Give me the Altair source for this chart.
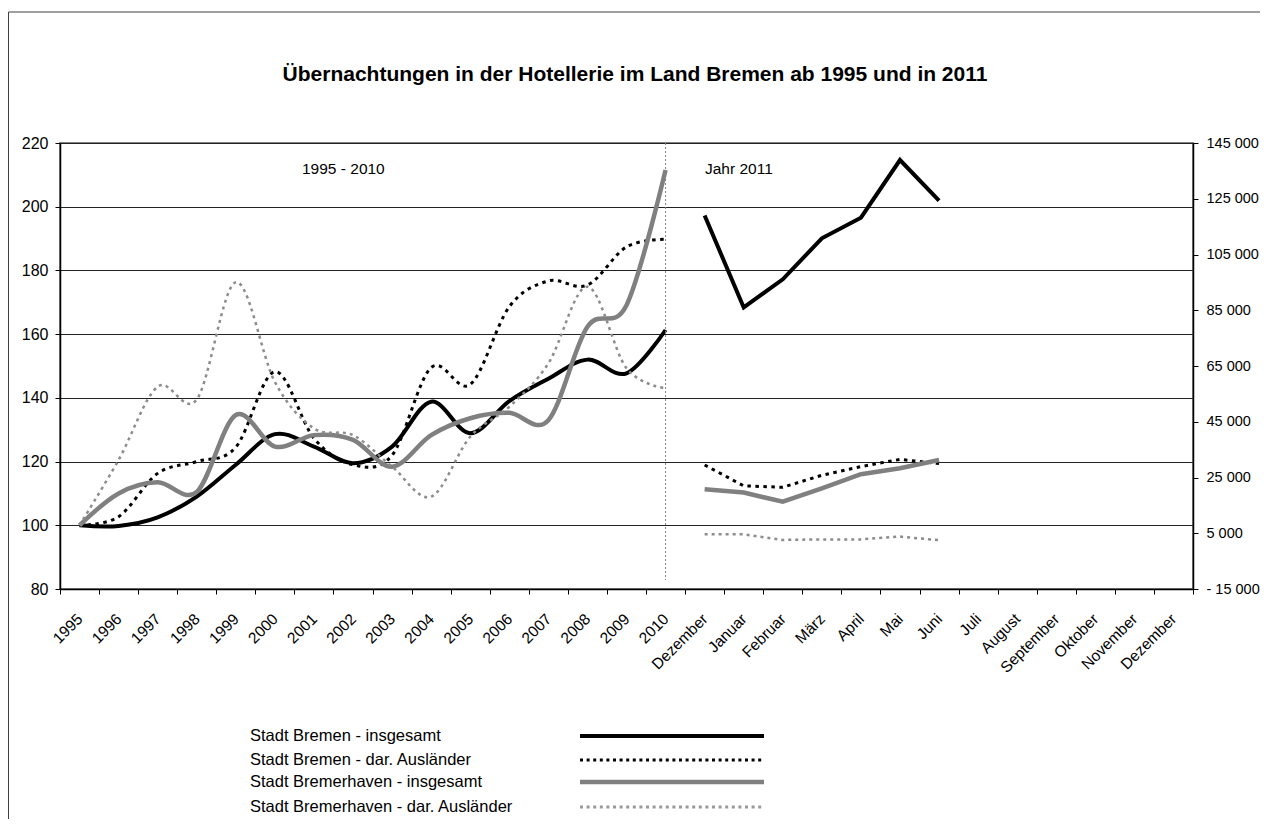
import altair as alt
import pandas as pd

# ---------------- data ----------------
title_text = "Übernachtungen in der Hotellerie im Land Bremen ab 1995 und in 2011"
years = [str(y) for y in range(1995, 2011)]
months = ["Dezember", "Januar", "Februar", "März", "April", "Mai", "Juni",
          "Juli", "August", "September", "Oktober", "November", "Dezember"]
x_labels = years + months

series_keys = ["hb_total", "hb_foreign", "bhv_total", "bhv_foreign"]
series_names = ["Stadt Bremen - insgesamt", "Stadt Bremen - dar. Ausländer",
                "Stadt Bremerhaven - insgesamt", "Stadt Bremerhaven - dar. Ausländer"]

# Index 1995 = 100 (left axis), 1995-2010
hb_total = [100, 99.8, 102.5, 109, 119, 128.6, 124.7, 119.5, 124.7, 138.8, 128.9, 139, 146, 152, 147.7, 161.3]
hb_foreign = [100, 102.7, 116.3, 120, 124.5, 148.2, 127.3, 119, 122, 149.5, 144.2, 168.6, 176.7, 175.4, 187.4, 189.8]
bhv_total = [100, 110, 113.5, 110.5, 134.6, 124.7, 128.3, 126.8, 118.4, 128.3, 133.6, 135.3, 133, 162.3, 169.1, 211.5]
bhv_foreign = [100, 120.5, 143.5, 139.5, 176.3, 145, 130.4, 128.3, 118.4, 109, 127.8, 137.2, 150.8, 174.9, 149.3, 143]

# Absolute numbers 2011 (right axis), Dezember (2010) .. Juni
m_hb_total = [119000, 86000, 96100, 110800, 118200, 138900, 124300]
m_hb_foreign = [29500, 22000, 21500, 25800, 28900, 31500, 30000]
m_bhv_total = [20800, 19600, 16300, 21100, 26200, 28300, 31300]
m_bhv_foreign = [4600, 4600, 2600, 2800, 2800, 3800, 2500]

left_ticks = [80, 100, 120, 140, 160, 180, 200, 220]
right_ticks = [-15000, 5000, 25000, 45000, 65000, 85000, 105000, 125000, 145000]

hist_values = {"hb_total": hb_total, "hb_foreign": hb_foreign,
               "bhv_total": bhv_total, "bhv_foreign": bhv_foreign}
month_values = {"hb_total": m_hb_total, "hb_foreign": m_hb_foreign,
                "bhv_total": m_bhv_total, "bhv_foreign": m_bhv_foreign}

# ---------------- styles ----------------
FONT = "Liberation Sans"
styles = {
    "hb_total": dict(color="#000000", strokeWidth=4),
    "hb_foreign": dict(color="#000000", strokeWidth=3, strokeDash=[3.5, 4.5]),
    "bhv_total": dict(color="#808080", strokeWidth=4.5),
    "bhv_foreign": dict(color="#8c8c8c", strokeWidth=2.5, strokeDash=[3, 4]),
}

n_cat = len(x_labels)
label_array = "[" + ",".join("'" + s + "'" for s in x_labels) + "]"

X = alt.X(
    "idx:O",
    bandPosition=0.5,
    scale=alt.Scale(type="band", domain=list(range(n_cat)), paddingInner=0, paddingOuter=0),
    axis=alt.Axis(
        title=None, labelExpr=label_array + "[datum.value]", labelAngle=-45,
        labelAlign="right", labelBaseline="middle", tickBand="extent",
        tickSize=5, labelPadding=22, labelOverlap=False, labelBound=False,
        labelFont=FONT, labelFontSize=15.5, labelColor="black",
        domainColor="black", domainWidth=1.5, tickColor="black", grid=False,
    ),
)

left_axis = alt.Axis(
    title=None, values=left_ticks, tickSize=5, labelPadding=7,
    grid=True, gridColor="#222222", gridWidth=1,
    domainColor="black", domainWidth=1.5, tickColor="black",
    labelFont=FONT, labelFontSize=16, labelColor="black",
)
right_axis = alt.Axis(
    title=None, orient="right", values=right_ticks, tickSize=5, labelPadding=8,
    grid=False, domainColor="black", domainWidth=1.5, tickColor="black",
    labelFont=FONT, labelFontSize=14.5, labelColor="black",
    labelExpr="(datum.value < 0 ? '- ' : '') + replace(format(abs(datum.value), ','), ',', ' ')",
)

hist_layers = []
month_layers = []
for key in series_keys:
    hdf = pd.DataFrame({"idx": list(range(len(years))), "value": hist_values[key]})
    hist_layers.append(
        alt.Chart(hdf).mark_line(interpolate="cardinal", tension=0, strokeCap="butt", **styles[key]).encode(
            x=X,
            y=alt.Y("value:Q", scale=alt.Scale(domain=[80, 220], nice=False, zero=False), axis=left_axis),
        )
    )
    mvals = month_values[key]
    mdf = pd.DataFrame({"idx": list(range(len(years), len(years) + len(mvals))), "value": mvals})
    month_layers.append(
        alt.Chart(mdf).mark_line(strokeCap="butt", strokeJoin="miter", **styles[key]).encode(
            x=X,
            y=alt.Y("value:Q", scale=alt.Scale(domain=[-15000, 145000], nice=False, zero=False), axis=right_axis),
        )
    )

hist = alt.layer(*hist_layers)
monthly = alt.layer(*month_layers)

# separator at 2010
sep = alt.Chart(pd.DataFrame({"idx": [len(years) - 1]})).mark_rule(
    color="#808080", strokeDash=[2, 2], strokeWidth=1
).encode(x=X, y=alt.value(0), y2=alt.value(437))

# annotations
def text_layer(txt, x, y, size=15, bold=False, align="left"):
    return alt.Chart(pd.DataFrame({"t": [txt]})).mark_text(
        font=FONT, fontSize=size, fontWeight="bold" if bold else "normal",
        align=align, baseline="middle", color="black"
    ).encode(text="t:N", x=alt.value(x), y=alt.value(y))

title = text_layer(title_text, 575, -68, size=21, bold=True, align="center")
ann1 = text_layer("1995 - 2010", 242, 26, size=15.5)
ann2 = text_layer("Jahr 2011", 645, 26, size=15.5)

# legend
legend_rows = [593, 617, 639, 664]
legend_layers = []
for key, name, ypx in zip(series_keys, series_names, legend_rows):
    legend_layers.append(text_layer(name, 190, ypx, size=16.5))
    st = dict(styles[key])
    if key == "hb_foreign":
        st["strokeDash"] = [3, 3.6]
    if key == "bhv_foreign":
        st["strokeDash"] = [3, 3.6]
        st["strokeWidth"] = 3
        st["color"] = "#999999"
    legend_layers.append(
        alt.Chart(pd.DataFrame({"k": [key]})).mark_rule(strokeCap="butt", **st).encode(
            x=alt.value(520), x2=alt.value(704), y=alt.value(ypx)
        )
    )

# outer frame
frame_left = alt.Chart(pd.DataFrame({"k": [0]})).mark_rule(color="#404040", strokeWidth=1).encode(
    x=alt.value(-51.5), y=alt.value(-131), y2=alt.value(676))
frame_top = alt.Chart(pd.DataFrame({"k": [0]})).mark_rule(color="#404040", strokeWidth=1).encode(
    x=alt.value(-51.5), x2=alt.value(1200), y=alt.value(-131))

chart = alt.layer(
    hist, monthly, sep, title, ann1, ann2, *legend_layers, frame_left, frame_top
).resolve_scale(y="independent").properties(
    width=1133, height=446,
    autosize=alt.AutoSizeParams(type="none"),
    padding={"left": 52, "top": 135, "right": 67, "bottom": 230},
).configure_view(stroke="#808080", strokeWidth=2)

chart.save("out.html", embed_options={"renderer": "svg", "actions": False})
